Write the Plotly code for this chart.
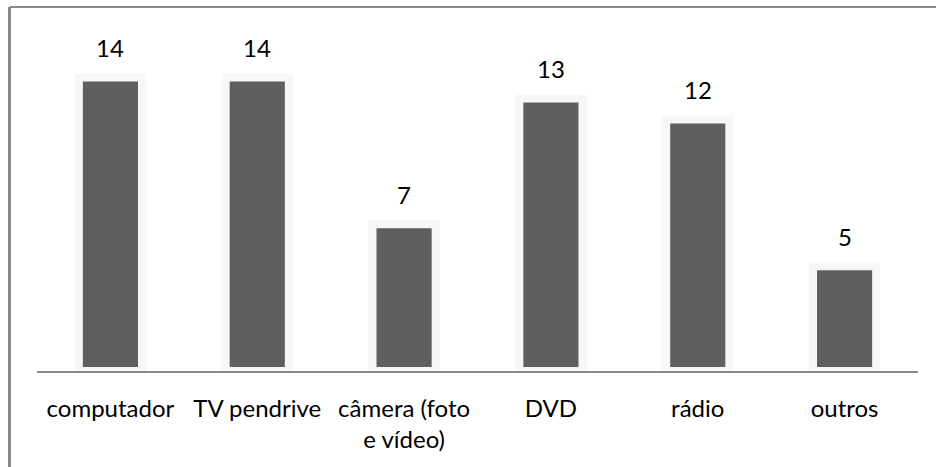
import plotly.graph_objects as go

categories = ["computador", "TV pendrive", "câmera (foto<br>e vídeo)", "DVD", "rádio", "outros"]
values = [14, 14, 7, 13, 12, 5]
value_labels = ["14", "14", "7", "13", "12", "5"]

FONT = "Lato"

fig = go.Figure()
fig.add_trace(go.Bar(
    x=categories,
    y=values,
    marker=dict(color="#5f5f5f", line=dict(color="#f7f7f7", width=8)),
    hoverinfo="skip",
))

for c, v, t in zip(categories, values, value_labels):
    fig.add_annotation(x=c, y=v, text=t, showarrow=False, yanchor="bottom",
                       yshift=13, font=dict(family=FONT, size=24, color="#000000"))

# chart frame (top and left edges visible)
fig.add_shape(type="line", xref="paper", yref="paper", x0=-0.0312, x1=1.1, y0=1.0, y1=1.0,
              line=dict(color="#8a8a8a", width=2))
fig.add_shape(type="line", xref="paper", yref="paper", x0=-0.0312, x1=-0.0312, y0=1.0, y1=-0.35,
              line=dict(color="#8a8a8a", width=3))

fig.update_layout(
    width=936, height=467,
    margin=dict(l=37, r=18, t=7, b=95.5),
    paper_bgcolor="white", plot_bgcolor="white",
    bargap=0.57,
    showlegend=False,
    font=dict(family=FONT, size=24, color="#000000"),
    xaxis=dict(showline=True, linecolor="#888888", linewidth=1.5, ticks="", tickangle=0,
               ticklabelstandoff=15,
               showgrid=False, tickfont=dict(family=FONT, size=24, color="#000000")),
    yaxis=dict(visible=False, range=[0, 17.36], showgrid=False, zeroline=False),
)

fig.write_html("out.html")
